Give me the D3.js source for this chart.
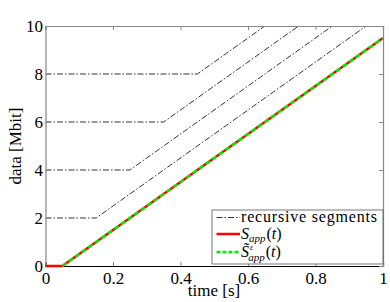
<!DOCTYPE html>
<html>
<head>
<meta charset="utf-8">
<script src="https://cdn.jsdelivr.net/npm/d3@7"></script>
<style>
  body { margin: 0; background: #fff; }
  svg text { font-family: "Liberation Serif", "DejaVu Serif", serif; fill: #000; }
  .axis text { font-size: 17px; }
</style>
</head>
<body>
<svg id="chart" width="390" height="302"></svg>
<script>
// data
const xTicks = [0, 0.2, 0.4, 0.6, 0.8, 1];
const yTicks = [0, 2, 4, 6, 8, 10];
// main curve S_app(t): zero until 0.05, then 10 Mbit/s
const appT = [0, 0.05, 1];
const appY = [0, 0, 9.5];
// recursive segments: level, time where it starts rising
const segLevels = [2, 4, 6, 8, 10];
const segBreaks = [0.15, 0.25, 0.35, 0.45, 0.55];
const segEndT = 1.1;
const rate = 10;

const svg = d3.select('#chart');
const mLeft = 45.5, mRight = 383, mTop = 26, mBottom = 266;

let x = d3.scaleLinear().domain([0, 1]).range([mLeft, mRight]);
let y = d3.scaleLinear().domain([0, 10]).range([mBottom, mTop]);

svg.append("clipPath").attr("id", "clip")
  .append("rect").attr("x", mLeft).attr("y", mTop).attr("width", mRight - mLeft).attr("height", mBottom - mTop);

let line = d3.line().x(d => x(d[0])).y(d => y(d[1]));

let plot = svg.append("g").attr("clip-path", "url(#clip)");

// recursive segments
for (var i = 0; i < segLevels.length; i++) {
  var lv = segLevels[i], tb = segBreaks[i];
  var pts = [[0, lv], [tb, lv], [segEndT, lv + rate * (segEndT - tb)]];
  plot.append("path")
    .datum(pts)
    .attr("d", line)
    .attr("fill", "none")
    .attr("stroke", "#000")
    .attr("stroke-width", 0.8)
    .attr("stroke-dasharray", "6,2,1.5,2");
}

let appPts = appT.map((t, i) => [t, appY[i]]);

// axes
let xAxis = d3.axisBottom(x).tickValues(xTicks).tickSize(-4).tickFormat(d3.format("~g")).tickPadding(5);
let yAxis = d3.axisLeft(y).tickValues(yTicks).tickSize(-4).tickFormat(d3.format("d")).tickPadding(2.5);

let xG = svg.append("g").attr("class", "axis").attr("transform", "translate(0," + mBottom + ")").call(xAxis);
let yG = svg.append("g").attr("class", "axis").attr("transform", "translate(" + mLeft + ",0)").call(yAxis);
let xTop = svg.append("g").attr("class", "axis").attr("transform", "translate(0," + mTop + ")")
  .call(d3.axisTop(x).tickValues(xTicks).tickSize(-4).tickFormat(""));
let yRight = svg.append("g").attr("class", "axis").attr("transform", "translate(" + mRight + ",0)")
  .call(d3.axisRight(y).tickValues(yTicks).tickSize(-4).tickFormat(""));

[xG, yG, xTop, yRight].forEach(g => {
  g.attr("font-size", null).attr("font-family", null);
  g.select(".domain").attr("stroke", "#888").attr("stroke-width", 1.2);
  g.selectAll(".tick line").attr("stroke", "#888");
  g.selectAll(".tick text").attr("fill", "#000");
});
xG.select(".domain").attr("stroke", "#000");
xG.selectAll(".tick text").attr("dy", "0.75em");
yG.selectAll(".tick text").attr("dy", "0.35em");

// main curves on top
svg.append("path").datum(appPts).attr("d", line)
  .attr("fill", "none").attr("stroke", "#ff0000").attr("stroke-width", 2.5);
svg.append("path").datum(appPts.slice(1)).attr("d", line)
  .attr("fill", "none").attr("stroke", "#00ee00").attr("stroke-width", 2.5)
  .attr("stroke-dasharray", "5,3");

// axis labels
svg.append("text").attr("x", 214).attr("y", 296)
  .attr("text-anchor", "middle").attr("font-size", 17).text("time [s]");
svg.append("text").attr("transform", "translate(21," + ((mTop + mBottom) / 2) + ") rotate(-90)")
  .attr("text-anchor", "middle").attr("font-size", 17).text("data [Mbit]");

// legend
let lg = svg.append("g");
let lx = 212, ly = 210, lw = mRight - lx, lh = 54;
lg.append("rect").attr("x", lx).attr("y", ly).attr("width", lw).attr("height", lh)
  .attr("fill", "#fff").attr("stroke", "#555").attr("stroke-width", 0.8);

let rows = [
  {stroke: "#000", dash: "6,2,1.5,2", w: 0.8, yy: 217.5},
  {stroke: "#ff0000", dash: null, w: 2.5, yy: 234},
  {stroke: "#00ee00", dash: "4,2", w: 2.5, yy: 252}
];
rows.forEach(r => {
  lg.append("line").attr("x1", lx + 4.5).attr("x2", lx + 28).attr("y1", r.yy).attr("y2", r.yy)
    .attr("stroke", r.stroke).attr("stroke-width", r.w).attr("stroke-dasharray", r.dash);
});

lg.append("text").attr("x", lx + 29).attr("y", 221.5).attr("font-size", 16)
  .attr("textLength", 136).text("recursive segments");

let t1 = lg.append("text").attr("x", lx + 29).attr("y", 239).attr("font-size", 16);
t1.append("tspan").attr("font-style", "italic").text("S");
t1.append("tspan").attr("font-style", "italic").attr("font-size", 11).attr("dy", 3).text("app");
t1.append("tspan").attr("dy", -3).attr("dx", 1).text("(");
t1.append("tspan").attr("font-style", "italic").text("t");
t1.append("tspan").text(")");

let t2 = lg.append("text").attr("x", lx + 29).attr("y", 256.5).attr("font-size", 16);
t2.append("tspan").attr("font-style", "italic").text("S\u0303");
t2.append("tspan").attr("font-style", "italic").attr("font-size", 8).attr("dy", -7).attr("dx", 1).text("\u03b5");
t2.append("tspan").attr("font-style", "italic").attr("font-size", 11).attr("dx", -5).attr("dy", 11).text("app");
t2.append("tspan").attr("dy", -4).attr("dx", 1).text("(");
t2.append("tspan").attr("font-style", "italic").text("t");
t2.append("tspan").text(")");
</script>
</body>
</html>
